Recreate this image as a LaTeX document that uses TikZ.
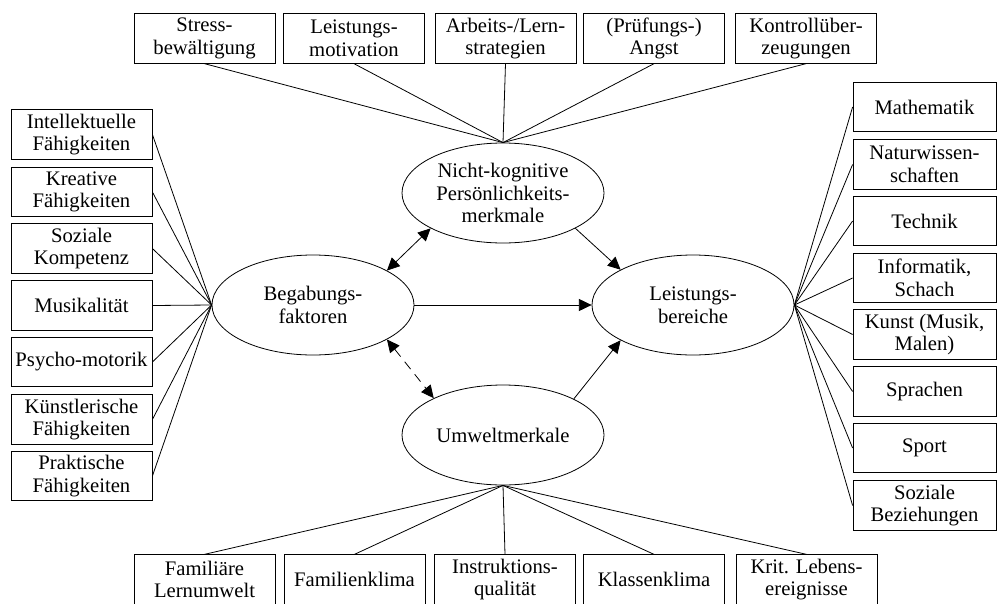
\documentclass[tikz,border=0pt]{standalone}
\usepackage{fontspec}
\setmainfont{Liberation Serif}
\usetikzlibrary{arrows.meta,shapes.geometric}
\begin{document}
\begin{tikzpicture}[x=0.75pt,y=-0.75pt,
  every node/.style={font=\fontsize{15.5pt}{17pt}\selectfont, align=center, inner sep=0pt},
  box/.style={draw, line width=0.6pt, minimum width=141*0.75pt, minimum height=49.5*0.75pt},
  oval/.style={draw, ellipse, line width=0.6pt, minimum width=202*0.75pt, minimum height=100*0.75pt},
  link/.style={line width=0.6pt},
  arr/.style={line width=0.6pt, -{Triangle[length=9.5pt,width=9pt]}},
  darr/.style={line width=0.6pt, {Triangle[length=9.5pt,width=9pt]}-{Triangle[length=9.5pt,width=9pt]}}
]
\useasboundingbox (0,0) rectangle (1002,603);
\clip (0,0) rectangle (1002,603);
\fill[white] (0,0) rectangle (1002,603);

% ellipses
\node[oval] (nk) at (503,193) {Nicht-kognitive\\Persönlichkeits-\\merkmale};
\node[oval] (beg) at (313,305) {Begabungs-\\faktoren};
\node[oval] (lb) at (693,305) {Leistungs-\\bereiche};
\node[oval] (um) at (503,435) {Umweltmerkale};

% top boxes
\node[box] (t1) at (204.5,38.5) {Stress-\\bewältigung};
\node[box] (t2) at (354,38.5) {Leistungs-\\motivation};
\node[box] (t3) at (505.5,38.5) {Arbeits-/Lern-\\strategien};
\node[box] (t4) at (654,38.5) {(Prüfungs-)\\Angst};
\node[box] (t5) at (806,38.5) {Kontrollüber-\\zeugungen};

% left boxes
\node[box] (l1) at (81.5,134.5) {Intellektuelle\\Fähigkeiten};
\node[box] (l2) at (81.5,192) {Kreative\\Fähigkeiten};
\node[box] (l3) at (81.5,248.5) {Soziale\\Kompetenz};
\node[box] (l4) at (81.5,305.5) {Musikalität};
\node[box] (l5) at (81.5,362) {Psycho-motorik};
\node[box] (l6) at (81.5,419.5) {Künstlerische\\Fähigkeiten};
\node[box] (l7) at (81.5,476) {Praktische\\Fähigkeiten};

% right boxes
\node[box, minimum width=143*0.75pt] (r1) at (924.5,107) {Mathematik};
\node[box, minimum width=143*0.75pt] (r2) at (924.5,164.5) {Naturwissen-\\schaften};
\node[box, minimum width=143*0.75pt] (r3) at (924.5,221) {Technik};
\node[box, minimum width=143*0.75pt] (r4) at (924.5,278) {Informatik,\\Schach};
\node[box, minimum width=143*0.75pt] (r5) at (924.5,334.5) {Kunst (Musik,\\Malen)};
\node[box, minimum width=143*0.75pt] (r6) at (924.5,391.5) {Sprachen};
\node[box, minimum width=143*0.75pt] (r7) at (924.5,448) {Sport};
\node[box, minimum width=143*0.75pt] (r8) at (924.5,505.5) {Soziale\\Beziehungen};

% bottom boxes
\node[box] (b1) at (204.5,579.5) {Familiäre\\Lernumwelt};
\node[box] (b2) at (354.5,579.5) {Familienklima};
\node[box] (b3) at (505,579.5) {Instruktions-\\qualität};
\node[box] (b4) at (654,579.5) {Klassenklima};
\node[box] (b5) at (806.5,579.5) {Krit. Lebens-\\ereignisse};

% connectors
\foreach \n in {t1,t2,t3,t4,t5} \draw[link] (\n.south) -- (nk.north);
\foreach \n in {l1,l2,l3,l4,l5,l6,l7} \draw[link] (\n.east) -- (beg.west);
\foreach \n in {r1,r2,r3,r4,r5,r6,r7,r8} \draw[link] (\n.west) -- (lb.east);
\foreach \n in {b1,b2,b3,b4,b5} \draw[link] (\n.north) -- (um.south);

% arrows
\draw[darr] (beg.25) -- (nk.206);
\draw[darr, dash pattern=on 7pt off 5pt] (beg.335) -- (um.152);
\draw[arr] (beg.east) -- (lb.west);
\draw[arr] (nk.334) -- (lb.154);
\draw[arr] (um.27) -- (lb.206);
\end{tikzpicture}
\end{document}
